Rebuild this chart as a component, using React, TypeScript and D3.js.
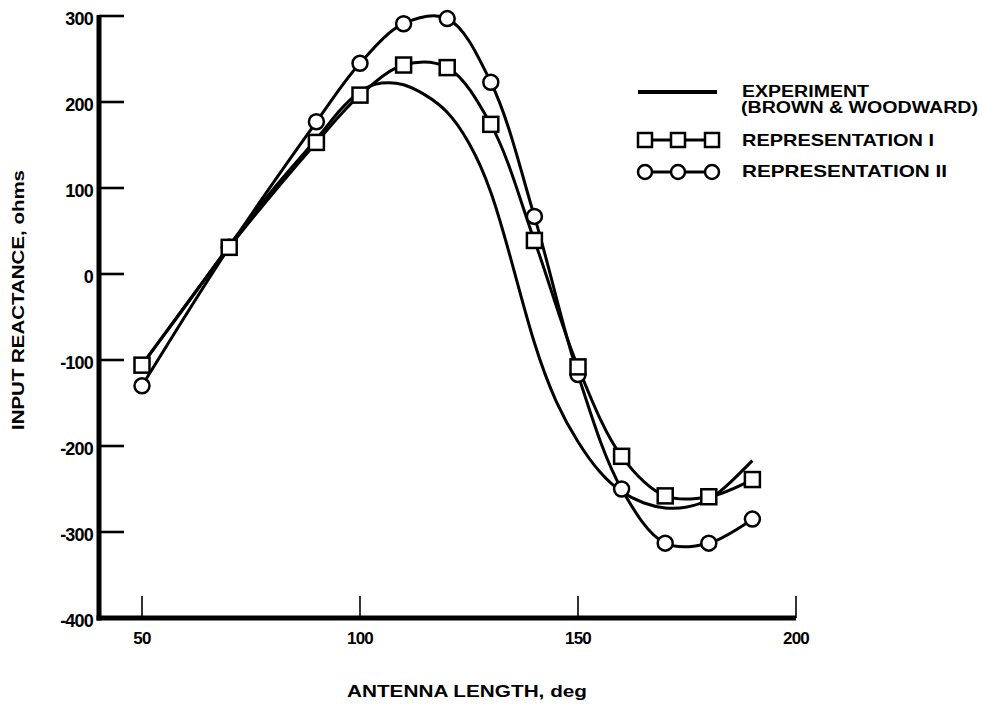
import React from "react";
import * as d3 from "d3";

// Antenna length (deg) at which the two representations were evaluated
const lengths = [50, 70, 90, 100, 110, 120, 130, 140, 150, 160, 170, 180, 190];
// Input reactance (ohms), Representation I
const repI = [-106, 31, 153, 208, 243, 240, 174, 39, -108, -212, -258, -259, -239];
// Input reactance (ohms), Representation II
const repII = [-130, 31, 177, 245, 291, 297, 223, 67, -117, -250, -313, -313, -285];

// Measured curve (Brown & Woodward)
const expLengths = [50, 60, 70, 80, 90, 95, 100, 105, 110, 115, 120, 125, 130, 135, 140, 145, 150, 155, 160, 165, 170, 175, 180, 185, 190];
const expReactance = [-105, -37, 33, 98, 157, 188, 212, 222, 220, 208, 188, 152, 95, 10, -80, -148, -195, -230, -253, -266, -272, -271, -262, -242, -217];

const xTicks = [50, 100, 150, 200];
const yTicks = [300, 200, 100, 0, -100, -200, -300, -400];

const W = 982;
const H = 707;
const FONT = "'Liberation Sans', Arial, Helvetica, sans-serif";

export default function App() {
  const x = d3.scaleLinear().domain([50, 200]).range([142, 796]);
  const y = d3.scaleLinear().domain([-400, 300]).range([618, 16]);
  const axisLeft = 99;
  const axisBottom = 618;

  const smooth = d3
    .line<[number, number]>()
    .x((d) => x(d[0]))
    .y((d) => y(d[1]))
    .curve(d3.curveCatmullRom.alpha(0.5));

  const natural = d3
    .line<[number, number]>()
    .x((d) => x(d[0]))
    .y((d) => y(d[1]))
    .curve(d3.curveNatural);

  const expPts = expLengths.map((l, i) => [l, expReactance[i]] as [number, number]);
  const r1Pts = lengths.map((l, i) => [l, repI[i]] as [number, number]);
  const r2Pts = lengths.map((l, i) => [l, repII[i]] as [number, number]);

  const sq = 15;
  const cr = 7.5;

  return (
    <svg
      width={W}
      height={H}
      viewBox={`0 0 ${W} ${H}`}
      style={{ position: "absolute", left: 0, top: 0, background: "#fff" }}
      fontFamily={FONT}
      fontWeight="bold"
    >
      <rect width={W} height={H} fill="#fff" />

      {/* axes */}
      <line x1={axisLeft} y1={y(300) - 1} x2={axisLeft} y2={axisBottom + 2.5} stroke="#000" strokeWidth={5} />
      <line x1={axisLeft - 2.5} y1={axisBottom} x2={x(200)} y2={axisBottom} stroke="#000" strokeWidth={5} />

      {yTicks.map((t) => (
        <g key={`y${t}`}>
          {t > -400 && (
            <line x1={axisLeft} y1={y(t)} x2={124} y2={y(t)} stroke="#000" strokeWidth={2.6} />
          )}
          <text
            x={93}
            y={y(t) + 3}
            textAnchor="end"
            dominantBaseline="central"
            fontSize={18}
            letterSpacing={-0.8}
          >
            {t}
          </text>
        </g>
      ))}

      {xTicks.map((t) => (
        <g key={`x${t}`}>
          <line x1={x(t)} y1={axisBottom} x2={x(t)} y2={596} stroke="#000" strokeWidth={1.6} />
          <text x={x(t)} y={644} textAnchor="middle" fontSize={17} letterSpacing={-0.8}>
            {t}
          </text>
        </g>
      ))}

      {/* axis titles */}
      <text
        x={467}
        y={697}
        textAnchor="middle"
        fontSize={16}
        textLength={240}
        lengthAdjust="spacingAndGlyphs"
      >
        ANTENNA LENGTH, deg
      </text>
      <text
        transform="translate(24,300) rotate(-90)"
        textAnchor="middle"
        fontSize={17}
        textLength={260}
        lengthAdjust="spacingAndGlyphs"
      >
        INPUT REACTANCE, ohms
      </text>

      {/* curves */}
      <path d={natural(expPts) ?? ""} fill="none" stroke="#000" strokeWidth={3} />
      <path d={smooth(r1Pts) ?? ""} fill="none" stroke="#000" strokeWidth={3} />
      <path d={smooth(r2Pts) ?? ""} fill="none" stroke="#000" strokeWidth={3} />

      {r2Pts.map((d, i) => (
        <circle key={`c${i}`} cx={x(d[0])} cy={y(d[1])} r={cr} fill="#fff" stroke="#000" strokeWidth={2.5} />
      ))}
      {r1Pts.map((d, i) => (
        <rect
          key={`s${i}`}
          x={x(d[0]) - sq / 2}
          y={y(d[1]) - sq / 2}
          width={sq}
          height={sq}
          fill="#fff"
          stroke="#000"
          strokeWidth={2.5}
        />
      ))}

      {/* legend */}
      <line x1={638} y1={92} x2={717} y2={92} stroke="#000" strokeWidth={4} />
      <text x={742} y={97} fontSize={16} textLength={127} lengthAdjust="spacingAndGlyphs">
        EXPERIMENT
      </text>
      <text x={741} y={113} fontSize={16} textLength={237} lengthAdjust="spacingAndGlyphs">
        (BROWN &amp; WOODWARD)
      </text>

      <line x1={645} y1={140} x2={712} y2={140} stroke="#000" strokeWidth={3} />
      {[645, 678, 712].map((lx) => (
        <rect
          key={`ls${lx}`}
          x={lx - 7}
          y={133}
          width={14}
          height={14}
          fill="#fff"
          stroke="#000"
          strokeWidth={2.5}
        />
      ))}
      <text x={742} y={146} fontSize={17} textLength={192} lengthAdjust="spacingAndGlyphs">
        REPRESENTATION I
      </text>

      <line x1={645} y1={172} x2={712} y2={172} stroke="#000" strokeWidth={3} />
      {[645, 678, 712].map((lx) => (
        <circle key={`lc${lx}`} cx={lx} cy={172} r={7} fill="#fff" stroke="#000" strokeWidth={2.5} />
      ))}
      <text x={742} y={177} fontSize={17} textLength={205} lengthAdjust="spacingAndGlyphs">
        REPRESENTATION II
      </text>
    </svg>
  );
}
